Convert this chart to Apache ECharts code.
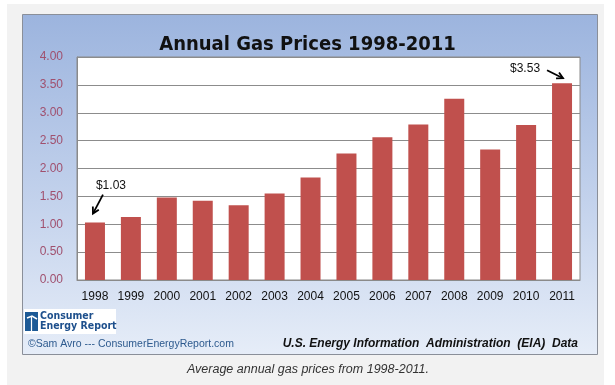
<!DOCTYPE html>
<html><head><meta charset="utf-8">
<script src="https://cdn.jsdelivr.net/npm/echarts@6/dist/echarts.min.js"></script>
<style>html,body{margin:0;padding:0;background:#fff}#c{width:615px;height:385px}</style>
</head><body><div id="c"></div>
<script>
const years = ['1998','1999','2000','2001','2002','2003','2004','2005','2006','2007','2008','2009','2010','2011'];
const prices = [1.03,1.13,1.48,1.42,1.34,1.55,1.84,2.27,2.56,2.79,3.25,2.34,2.78,3.53];
const yMin = 0, yMax = 4, yStep = 0.5;
const chartTitle = 'Annual Gas Prices 1998-2011';
const callouts = [
  {index: 0, text: '$1.03', tdx: 16, tdy: -37, a: [8,-28], b: [-2,-9]},
  {index: 13, text: '$3.53', tdx: -37, tdy: -15, a: [-15,-13], b: [1,-5]}
];
const logoLines = ['Consumer', 'Energy Report'];
const creditText = '©Sam Avro --- ConsumerEnergyReport.com';
const sourceText = 'U.S. Energy Information  Administration  (EIA)  Data';
const captionText = 'Average annual gas prices from 1998-2011.';

const chart = echarts.init(document.getElementById('c'), null, {renderer: 'canvas'});
const sans = "'Liberation Sans', Arial, sans-serif";
const bg = [
  {type:'rect', z:-10, shape:{x:7,y:4,width:597,height:381}, style:{fill:'#f2f2f2'}, silent:true},
  {type:'rect', z:-9, shape:{x:22.5,y:14.5,width:575,height:340}, style:{
    fill: new echarts.graphic.LinearGradient(0,0,0,1,[{offset:0,color:'#9cb4de'},{offset:0.55,color:'#c3d2ec'},{offset:1,color:'#e6edf8'}]),
    stroke:'#8a8f99', lineWidth:1}, silent:true},
  // logo
  {type:'rect', z:-8, shape:{x:24,y:309,width:92,height:25}, style:{fill:'#ffffff'}},
  {type:'rect', z:-7, shape:{x:25,y:312,width:13,height:19}, style:{fill:'#1d5a96'}},
  {type:'polyline', z:-6, shape:{points:[[27,318],[32,316],[37,319]]}, style:{stroke:'#ffffff',lineWidth:1.5,fill:null}},
  {type:'line', z:-6, shape:{x1:31.5,y1:317,x2:31.5,y2:331}, style:{stroke:'#ffffff',lineWidth:1.2}},
  {type:'text', z:-6, style:{x:40,y:311,text:logoLines[0],font:"bold 10.5px 'DejaVu Sans Condensed', sans-serif",fill:'#1d4f8c'}},
  {type:'text', z:-6, style:{x:40,y:321,text:logoLines[1],font:"bold 10.5px 'DejaVu Sans Condensed', sans-serif",fill:'#1d4f8c'}},
  {type:'text', z:-6, style:{x:28,y:344,text:creditText,font:"10.5px 'Liberation Sans', sans-serif",fill:'#2d5a8e',verticalAlign:'middle'}},
  {type:'text', z:-6, style:{x:578,y:344,text:sourceText,font:"italic bold 12px 'Liberation Sans', sans-serif",fill:'#111111',align:'right',verticalAlign:'middle'}},
  {type:'text', z:-6, style:{x:308,y:370,text:captionText,font:"italic 12.5px 'Liberation Sans', sans-serif",fill:'#333333',align:'center',verticalAlign:'middle'}}
];

const option = {
  animation: false,
  title: {text: chartTitle, left: 'center', top: 30,
    textStyle: {fontSize: 20, fontWeight: 'bold', color: '#111', fontFamily: "'DejaVu Sans Condensed', sans-serif"}},
  grid: {left: 77, right: 35, top: 57, bottom: 105, show: true, backgroundColor: '#ffffff', borderColor: '#8a8a8a', borderWidth: 1},
  xAxis: {type: 'category', data: years,
    axisLine: {lineStyle: {color: '#8a8a8a'}}, axisTick: {show: false},
    axisLabel: {color: '#111', fontSize: 12, fontFamily: sans, margin: 11}},
  yAxis: {type: 'value', min: yMin, max: yMax, interval: yStep,
    axisLine: {show: true, lineStyle: {color: '#8a8a8a'}}, axisTick: {show: false},
    splitLine: {lineStyle: {color: '#8c8c8c', width: 1}},
    axisLabel: {color: '#a0506e', fontSize: 12, fontFamily: sans, margin: 14, formatter: v => v.toFixed(2)}},
  series: [{type: 'bar', data: prices, barWidth: 20, itemStyle: {color: '#c0504d'}}],
  graphic: bg
};
chart.setOption(option);

function arrow(x1,y1,x2,y2){
  const ang = Math.atan2(y2-y1, x2-x1), L = 7, w = 0.5;
  return [
    {type:'line', shape:{x1,y1,x2,y2}, style:{stroke:'#000',lineWidth:1.8}},
    {type:'polyline', shape:{points:[[x2-L*Math.cos(ang-w), y2-L*Math.sin(ang-w)],[x2,y2],[x2-L*Math.cos(ang+w), y2-L*Math.sin(ang+w)]]}, style:{stroke:'#000',lineWidth:1.8,fill:null}}
  ];
}
const extra = [];
callouts.forEach(c => {
  const p = chart.convertToPixel({seriesIndex: 0}, [c.index, prices[c.index]]);
  extra.push({type:'text', z:10, style:{x:p[0]+c.tdx, y:p[1]+c.tdy, text:c.text, font:"12px 'Liberation Sans', sans-serif", fill:'#111', align:'center', verticalAlign:'middle'}});
  arrow(p[0]+c.a[0], p[1]+c.a[1], p[0]+c.b[0], p[1]+c.b[1]).forEach(e => { e.z = 10; extra.push(e); });
});
chart.setOption({graphic: bg.concat(extra)});
</script></body></html>
